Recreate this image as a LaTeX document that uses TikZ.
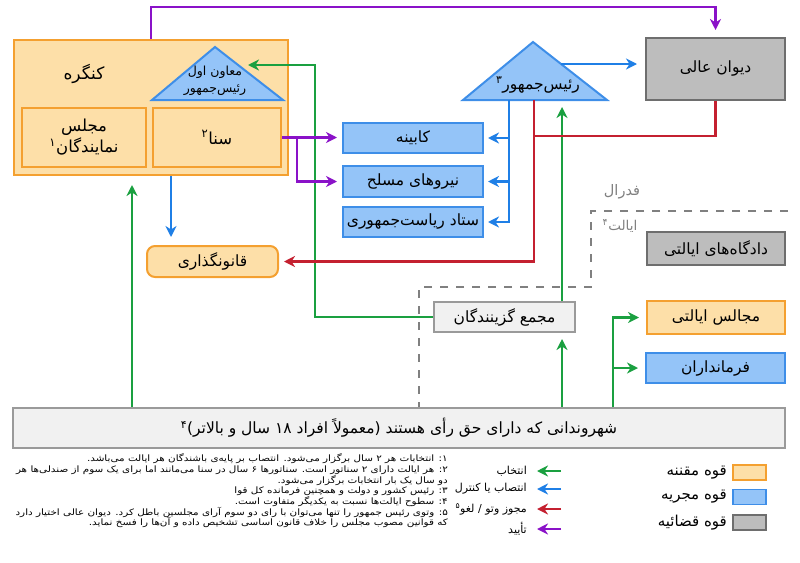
\documentclass[tikz,border=0pt]{standalone}
\usepackage{fontspec}
\usetikzlibrary{arrows.meta}
\TeXXeTstate=1
\setmainfont{DejaVu Sans}
\newfontfamily\fa[Script=Arabic]{DejaVu Sans}
\newfontfamily\fan[Script=Arabic, FakeStretch=1.18]{DejaVu Sans}
\definecolor{orF}{HTML}{FDDFA8}
\definecolor{orD}{HTML}{F4A030}
\definecolor{blF}{HTML}{94C4F8}
\definecolor{blD}{HTML}{3E8EE8}
\definecolor{grF}{HTML}{BDBDBD}
\definecolor{grD}{HTML}{6E6E6E}
\definecolor{ltF}{HTML}{F1F1F1}
\definecolor{ltD}{HTML}{9A9A9A}
\definecolor{cG}{HTML}{1AA040}
\definecolor{cB}{HTML}{1F7FE6}
\definecolor{cR}{HTML}{C42030}
\definecolor{cP}{HTML}{8A12C8}
\definecolor{dsh}{HTML}{808080}
\tikzset{
  base/.style={line width=2pt, inner sep=0pt, font=\fa\fontsize{15.5}{18}\selectfont, align=center},
  orbox/.style={base, draw=orD, fill=orF},
  blbox/.style={base, draw=blD, fill=blF},
  grbox/.style={base, draw=grD, fill=grF},
  ltbox/.style={base, draw=ltD, fill=ltF},
  lbl/.style={inner sep=0pt, font=\fa\fontsize{15.5}{18}\selectfont, align=center},
  cgfont/.style={font=\fa\fontsize{16.5}{21}\selectfont},
  arr/.style={line width=2.1pt, -{Stealth[length=11pt,width=11pt,inset=3.5pt]}},
  ln/.style={line width=2.1pt},
  fn/.style={inner sep=0pt, anchor=east, font=\fan\fontsize{8.8}{10}\selectfont},
  dashline/.style={line width=2pt, draw=dsh, dash pattern=on 8pt off 8pt},
}
\begin{document}
\begin{tikzpicture}[x=1pt,y=-1pt]
\useasboundingbox (0,0) rectangle (800,562);
% ---- boxes
\node[orbox, minimum width=274, minimum height=135] (congress) at (151,107.5) {};
\node[lbl, font=\fa\fontsize{17}{20}\selectfont] (congtxt) at (84,74) {\beginR کنگره\endR};
\node[orbox, cgfont, minimum width=124, minimum height=59] (majlis) at (84,137.5) {\beginR مجلس\endR\\\beginR نمایندگان\textsuperscript{۱}\endR};
\node[orbox, cgfont, minimum width=128, minimum height=59] (senate) at (217,137.5) {\beginR سنا\textsuperscript{۲}\endR};
% VP triangle
\coordinate (vpA) at (215,47);
\coordinate (vpL) at (152,100);
\coordinate (vpR) at (283,100);
\coordinate (vpE) at (238,65);
\fill[blF] (vpA) -- (vpR) -- (vpL) -- cycle;
\draw[blD, line width=2pt, line join=miter] (vpA) -- (vpR) -- (vpL) -- cycle;
\node[lbl, font=\fa\fontsize{12.5}{17}\selectfont] (vptxt) at (215,81) {\beginR معاون اول\endR\\\beginR رئیس‌جمهور\endR};
% President triangle
\coordinate (prA) at (533,42);
\coordinate (prL) at (463,100);
\coordinate (prR) at (607,100);
\coordinate (prE) at (561,64);
\coordinate (pb1) at (509,100);
\coordinate (pb2) at (534,100);
\fill[blF] (prA) -- (prR) -- (prL) -- cycle;
\draw[blD, line width=2pt, line join=miter] (prA) -- (prR) -- (prL) -- cycle;
\node[lbl] (prtxt) at (538,85) {\beginR رئیس‌جمهور\textsuperscript{۳}\endR};
\node[grbox, minimum width=139, minimum height=62] (supreme) at (715.5,69) {\beginR دیوان عالی\endR};
\node[blbox, minimum width=140, minimum height=30] (cabinet) at (413,138) {\beginR کابینه\endR};
\node[blbox, minimum width=140, minimum height=31] (armed) at (413,181.5) {\beginR نیروهای مسلح\endR};
\node[blbox, minimum width=140, minimum height=30] (staff) at (413,222) {\beginR ستاد ریاست‌جمهوری\endR};
\node[orbox, rounded corners=8pt, minimum width=131, minimum height=31] (qanon) at (212.5,261.5) {\beginR قانونگذاری\endR};
\node[ltbox, minimum width=141, minimum height=30] (college) at (504.5,317) {\beginR مجمع گزینندگان\endR};
\node[grbox, minimum width=138, minimum height=33] (scourts) at (716,248.5) {\beginR دادگاه‌های ایالتی\endR};
\node[orbox, minimum width=138, minimum height=33] (slegis) at (716,317.5) {\beginR مجالس ایالتی\endR};
\node[blbox, minimum width=139, minimum height=30] (govs) at (715.5,368) {\beginR فرمانداران\endR};
\node[ltbox, minimum width=772, minimum height=40] (citizens) at (399,428) {\beginR شهروندانی که دارای حق رأی هستند (معمولاً افراد ۱۸ سال و بالاتر)\textsuperscript{۴}\endR};
% federal / state labels
\node[lbl, text=dsh, font=\fa\fontsize{14.5}{16}\selectfont] (fedtxt) at (622,192) {\beginR فدرال\endR};
\node[lbl, text=dsh, font=\fa\fontsize{13.5}{16}\selectfont] (sttxt) at (620,226) {\beginR ایالت\textsuperscript{۴}\endR};
% dashed boundary
\coordinate (d1) at (788,211);
\coordinate (d2) at (591,211);
\coordinate (d3) at (591,287);
\coordinate (d4) at (419,287);
\draw[dashline] (d1) -- (d2) -- (d3) -- (d4) -- (d4 |- citizens.north);
% ---- connectors
\coordinate (gx) at (315,0);
\coordinate (gc) at (562,0);
\coordinate (gs) at (613,0);
\coordinate (gl) at (132,0);
\coordinate (cb) at (171,0);
\coordinate (cp) at (297,0);
\coordinate (rk) at (0,136);
% green
\draw[arr, draw=cG, shorten >=10pt] (college.west) -| (gx |- vpE) -- (vpE);
\draw[arr, draw=cG, shorten >=7pt] (gc |- college.north) -- (gc |- pb1);
\draw[arr, draw=cG, shorten >=6pt] (gc |- citizens.north) -- (gc |- college.south);
\draw[arr, draw=cG, shorten >=9pt] (gl |- citizens.north) -- (gl |- congress.south);
\draw[arr, draw=cG, shorten >=7pt] (gs |- citizens.north) |- (slegis.west);
\draw[arr, draw=cG, shorten >=7pt] (gs |- govs.west) -- (govs.west);
% purple
\draw[arr, draw=cP, shorten >=7pt] (congress.north) -- ++(0,-32) -| (supreme.north);
\draw[arr, draw=cP, shorten >=5pt] (senate.east) -- (senate.east -| cabinet.west);
\draw[arr, draw=cP, shorten >=5pt] (senate.east -| cp) |- (armed.west);
% blue
\draw[arr, draw=cB, shorten >=8pt] (prE) -- (prE -| supreme.west);
\draw[arr, draw=cB, shorten >=4pt] (pb1) |- (staff.east);
\draw[arr, draw=cB, shorten >=4pt] (pb1 |- cabinet.east) -- (cabinet.east);
\draw[arr, draw=cB, shorten >=4pt] (pb1 |- armed.east) -- (armed.east);
\draw[arr, draw=cB, shorten >=8pt] (cb |- congress.south) -- (cb |- qanon.north);
% red
\draw[ln, draw=cR] (supreme.south) |- (pb2 |- rk);
\draw[arr, draw=cR, shorten >=5pt] (pb2) |- (qanon.east);
% ---- footnotes
\node[fn] (f1) at (448,459) {\beginR ۱: انتخابات هر ۲ سال برگزار می‌شود. انتصاب بر پایه‌ی باشندگان هر ایالت می‌باشد.\endR};
\node[fn] (f2) at (448,470) {\beginR ۲: هر ایالت دارای ۲ سناتور است. سناتورها ۶ سال در سنا می‌مانند اما برای یک سوم از صندلی‌ها هر\endR};
\node[fn] (f3) at (448,480.5) {\beginR دو سال یک بار انتخابات برگزار می‌شود.\endR};
\node[fn] (f4) at (448,491) {\beginR ۳: رئیس کشور و دولت و همچنین فرمانده کل قوا\endR};
\node[fn] (f5) at (448,501.5) {\beginR ۴: سطوح ایالت‌ها نسبت به یکدیگر متفاوت است.\endR};
\node[fn] (f6) at (448,512) {\beginR ۵: وتوی رئیس جمهور را تنها می‌توان با رای دو سوم آرای مجلسین باطل کرد. دیوان عالی اختیار دارد\endR};
\node[fn] (f7) at (448,522.5) {\beginR که قوانین مصوب مجلس را خلاف قانون اساسی تشخیص داده و آن‌ها را فسخ نماید.\endR};
% ---- legend arrows
\coordinate (la1) at (561,471); \coordinate (lb1) at (537,471);
\coordinate (la2) at (561,489); \coordinate (lb2) at (537,489);
\coordinate (la3) at (561,509); \coordinate (lb3) at (537,509);
\coordinate (la4) at (561,529); \coordinate (lb4) at (537,529);
\draw[arr, draw=cG] (la1) -- (lb1);
\draw[arr, draw=cB] (la2) -- (lb2);
\draw[arr, draw=cR] (la3) -- (lb3);
\draw[arr, draw=cP] (la4) -- (lb4);
\node[fn, font=\fa\fontsize{11}{13}\selectfont] (l1) at (527,471) {\beginR انتخاب\endR};
\node[fn, font=\fa\fontsize{11}{13}\selectfont] (l2) at (527,489) {\beginR انتصاب یا کنترل\endR};
\node[fn, font=\fa\fontsize{11}{13}\selectfont] (l3) at (527,509) {\beginR مجوز وتو / لغو\textsuperscript{۵}\endR};
\node[fn, font=\fa\fontsize{11}{13}\selectfont] (l4) at (527,529) {\beginR تأیید\endR};
% ---- colour legend
\node[orbox, line width=1.5pt, minimum width=33, minimum height=15] (k1) at (749.5,472.5) {};
\node[blbox, line width=1.5pt, minimum width=33, minimum height=15] (k2) at (749.5,497) {};
\node[grbox, line width=1.5pt, minimum width=33, minimum height=15] (k3) at (749.5,522.5) {};
\node[fn, font=\fa\fontsize{15}{17}\selectfont] (kt1) at (727,472.5) {\beginR قوه مقننه\endR};
\node[fn, font=\fa\fontsize{15}{17}\selectfont] (kt2) at (727,497) {\beginR قوه مجریه\endR};
\node[fn, font=\fa\fontsize{15}{17}\selectfont] (kt3) at (727,522.5) {\beginR قوه قضائیه\endR};
\end{tikzpicture}
\end{document}
